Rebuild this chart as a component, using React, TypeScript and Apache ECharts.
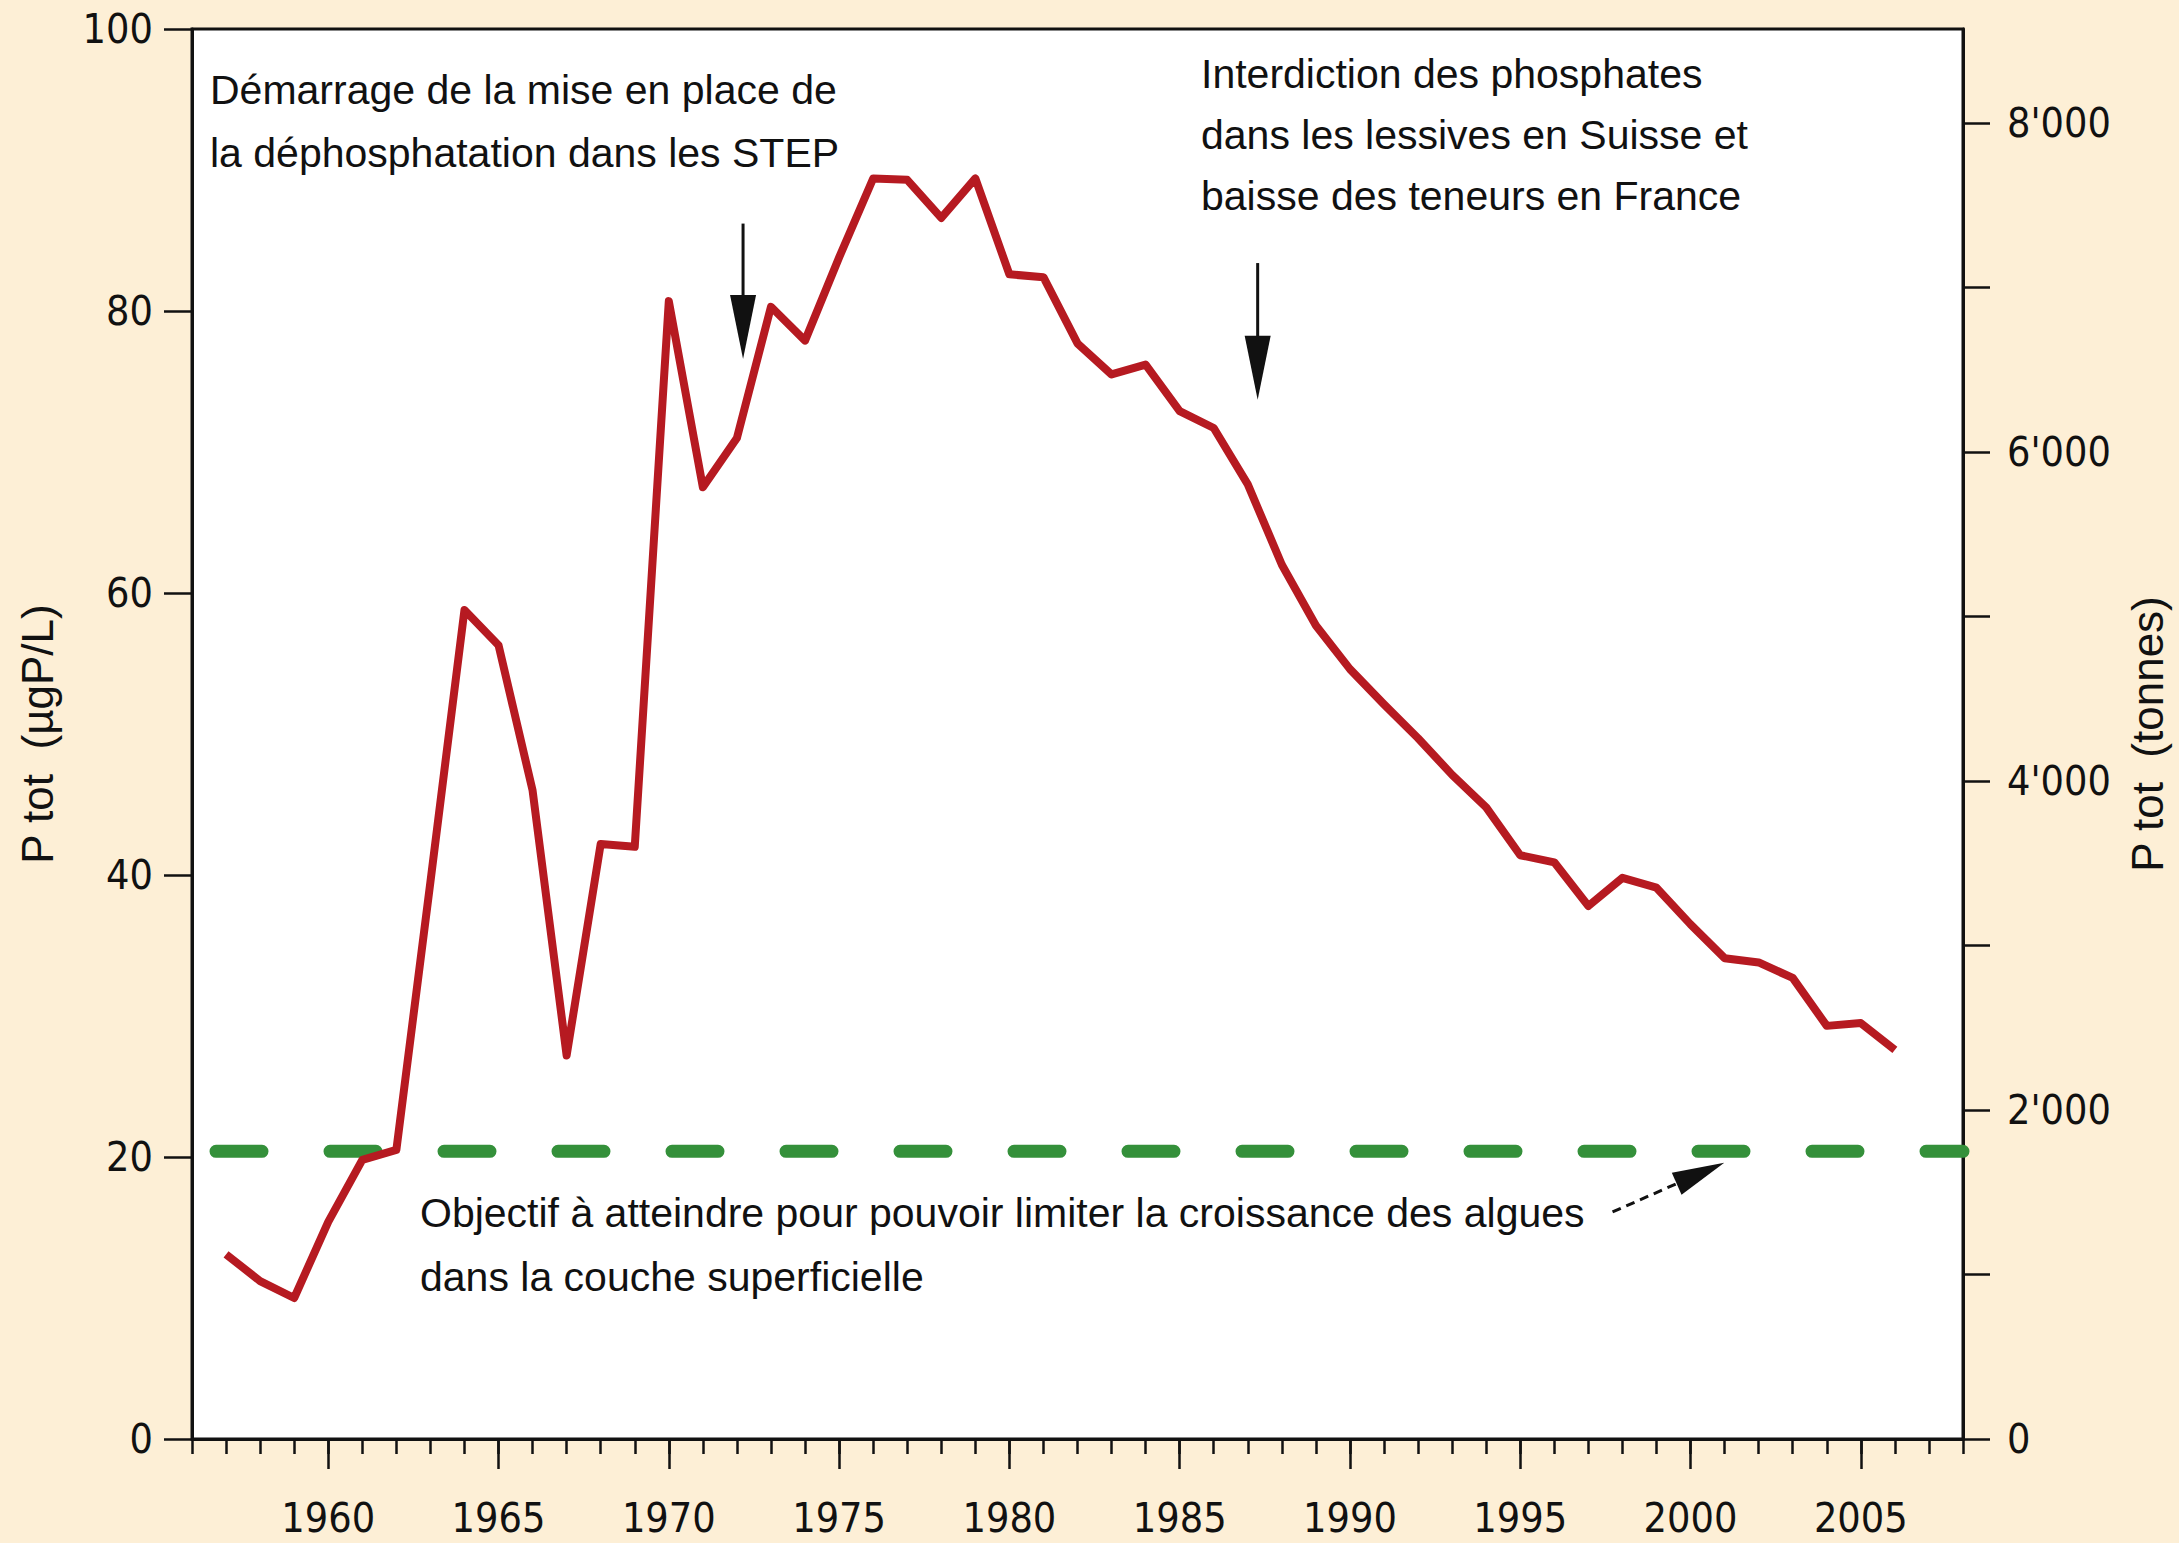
import React, { useEffect, useRef } from 'react';
import * as echarts from 'echarts';

// ---- data ----
const years = [
  1957, 1958, 1959, 1960, 1961, 1962, 1963, 1964, 1965, 1966,
  1967, 1968, 1969, 1970, 1971, 1972, 1973, 1974, 1975, 1976,
  1977, 1978, 1979, 1980, 1981, 1982, 1983, 1984, 1985, 1986,
  1987, 1988, 1989, 1990, 1991, 1992, 1993, 1994, 1995, 1996,
  1997, 1998, 1999, 2000, 2001, 2002, 2003, 2004, 2005, 2006,
];
const ptot = [
  13.1, 11.2, 10.0, 15.4, 19.8, 20.5, 39.5, 58.8, 56.3, 46.0,
  27.2, 42.2, 42.0, 80.7, 67.5, 71.0, 80.3, 77.9, 83.8, 89.4,
  89.3, 86.6, 89.4, 82.6, 82.4, 77.7, 75.5, 76.2, 72.9, 71.7,
  67.7, 62.0, 57.7, 54.6, 52.1, 49.7, 47.1, 44.8, 41.4, 40.9,
  37.8, 39.8, 39.1, 36.5, 34.1, 33.8, 32.7, 29.3, 29.5, 27.6,
];
const objectiveLevel = 20.4;
const objectiveRange = [1956, 2008];
const xRange = [1956, 2008];
const xMajorTicks = [1960, 1965, 1970, 1975, 1980, 1985, 1990, 1995, 2000, 2005];
const leftRange = [0, 100];
const leftInterval = 20;
const rightRange = [0, 8570];
const rightTickValues = [0, 1000, 2000, 3000, 4000, 5000, 6000, 7000, 8000];
const rightLabelValues = [0, 2000, 4000, 6000, 8000];
const leftTitle = 'P tot  (µgP/L)';
const rightTitle = 'P tot  (tonnes)';

const noteSTEP = ['Démarrage de la mise en place de', 'la déphosphatation dans les STEP'];
const noteBan = ['Interdiction des phosphates', 'dans les lessives en Suisse et', 'baisse des teneurs en France'];
const noteGoal = ['Objectif à atteindre pour pouvoir limiter la croissance des algues', 'dans la couche superficielle'];

// arrows in data coordinates: [from, to]
const arrowSTEP = [[1972.18, 86.2], [1972.18, 76.6]];
const arrowBan = [[1987.29, 83.4], [1987.29, 73.7]];
const arrowGoal = [[1997.71, 16.1], [2000.99, 19.6]];

const TICK_FONT = "'Liberation Sans Narrow', 'DejaVu Sans Condensed', 'Liberation Sans', Arial, sans-serif";
const TEXT_FONT = "'Liberation Sans', Arial, sans-serif";
const INK = '#111111';

function thousands(v: number): string {
  return String(v).replace(/\B(?=(\d{3})+(?!\d))/g, "'");
}

export default function App() {
  const ref = useRef<HTMLDivElement>(null);

  useEffect(() => {
    if (!ref.current) return;
    const chart = echarts.init(ref.current, null, { renderer: 'svg' });

    const option: any = {
      animation: false,
      backgroundColor: '#fdefd6',
      grid: {
        left: 192,
        right: 216,
        top: 29,
        bottom: 104,
        show: true,
        backgroundColor: '#ffffff',
        borderColor: INK,
        borderWidth: 3,
      },
      xAxis: [
        {
          type: 'value',
          position: 'bottom',
          min: xRange[0],
          max: xRange[1],
          axisLine: { show: true, lineStyle: { color: INK, width: 3 } },
          axisTick: {
            show: true,
            inside: false,
            length: 30,
            customValues: xMajorTicks,
            lineStyle: { color: INK, width: 2.5 },
          },
          axisLabel: {
            show: true,
            customValues: xMajorTicks,
            margin: 58,
            fontSize: 41,
            fontFamily: TICK_FONT,
            color: INK,
            formatter: (v: number) => String(v),
          },
          splitLine: { show: false },
        },
        {
          type: 'value',
          position: 'bottom',
          min: xRange[0],
          max: xRange[1],
          interval: 1,
          axisLine: { show: false },
          axisTick: { show: true, inside: false, length: 15, lineStyle: { color: INK, width: 2.5 } },
          axisLabel: { show: false },
          splitLine: { show: false },
        },
      ],
      yAxis: [
        {
          type: 'value',
          position: 'left',
          min: leftRange[0],
          max: leftRange[1],
          interval: leftInterval,
          name: leftTitle,
          nameLocation: 'middle',
          nameRotate: 90,
          nameGap: 133,
          nameTextStyle: { fontSize: 44, fontFamily: TEXT_FONT, color: INK },
          axisLine: { show: true, lineStyle: { color: INK, width: 3 } },
          axisTick: { show: true, inside: false, length: 28, lineStyle: { color: INK, width: 2.5 } },
          axisLabel: { margin: 39, fontSize: 41, fontFamily: TICK_FONT, color: INK },
          splitLine: { show: false },
        },
        {
          type: 'value',
          position: 'right',
          min: rightRange[0],
          max: rightRange[1],
          name: rightTitle,
          nameLocation: 'middle',
          nameRotate: 90,
          nameGap: 162,
          nameTextStyle: { fontSize: 44, fontFamily: TEXT_FONT, color: INK },
          axisLine: { show: true, lineStyle: { color: INK, width: 3 } },
          axisTick: {
            show: true,
            inside: false,
            length: 27,
            customValues: rightTickValues,
            lineStyle: { color: INK, width: 2.5 },
          },
          axisLabel: {
            customValues: rightLabelValues,
            margin: 44,
            fontSize: 41,
            fontFamily: TICK_FONT,
            color: INK,
            formatter: (v: number) => thousands(v),
          },
          splitLine: { show: false },
        },
      ],
      series: [
        {
          name: 'objectif',
          type: 'line',
          xAxisIndex: 0,
          yAxisIndex: 0,
          data: objectiveRange.map((x) => [x, objectiveLevel]),
          showSymbol: false,
          silent: true,
          z: 2,
          lineStyle: {
            color: '#34903a',
            width: 13,
            type: [46, 68],
            dashOffset: 90,
            cap: 'round',
          },
        },
        {
          name: 'P tot',
          type: 'line',
          xAxisIndex: 0,
          yAxisIndex: 0,
          data: years.map((y, i) => [y, ptot[i]]),
          showSymbol: false,
          z: 3,
          lineStyle: { color: '#b61a21', width: 8, join: 'round' },
        },
      ],
    };
    chart.setOption(option);

    const toPx = (p: number[]) => chart.convertToPixel({ xAxisIndex: 0, yAxisIndex: 0 }, p) as number[];
    const arrowGraphic = (a: number[][], dashed: boolean, headLen: number, headW: number) => {
      const p1 = toPx(a[0]);
      const p2 = toPx(a[1]);
      const dx = p2[0] - p1[0];
      const dy = p2[1] - p1[1];
      const len = Math.hypot(dx, dy);
      const ux = dx / len;
      const uy = dy / len;
      const bx = p2[0] - ux * headLen;
      const by = p2[1] - uy * headLen;
      const nx = -uy * headW / 2;
      const ny = ux * headW / 2;
      return [
        {
          type: 'line',
          z: 10,
          shape: { x1: p1[0], y1: p1[1], x2: bx + ux * 4, y2: by + uy * 4 },
          style: { stroke: INK, lineWidth: 3, lineDash: dashed ? [9, 6] : null },
        },
        {
          type: 'polygon',
          z: 10,
          shape: { points: [[bx + nx, by + ny], [bx - nx, by - ny], [p2[0], p2[1]]] },
          style: { fill: INK },
        },
      ];
    };
    const textGraphic = (lines: string[], x: number, y: number, lh: number) => ({
      type: 'text',
      z: 10,
      x,
      y,
      style: {
        text: lines.join('\n'),
        fontSize: 41,
        fontFamily: TEXT_FONT,
        fill: INK,
        lineHeight: lh,
        align: 'left',
        verticalAlign: 'top',
      },
    });

    chart.setOption({
      graphic: [
        textGraphic(noteSTEP, 210, 58, 63),
        textGraphic(noteBan, 1201, 43, 61),
        textGraphic(noteGoal, 420, 1181, 64),
        ...arrowGraphic(arrowSTEP, false, 64, 26),
        ...arrowGraphic(arrowBan, false, 64, 26),
        ...arrowGraphic(arrowGoal, true, 52, 24),
      ],
    });

    return () => chart.dispose();
  }, []);

  return (
    <div
      ref={ref}
      style={{ position: 'absolute', left: 0, top: 0, width: 2179, height: 1543 }}
    />
  );
}
